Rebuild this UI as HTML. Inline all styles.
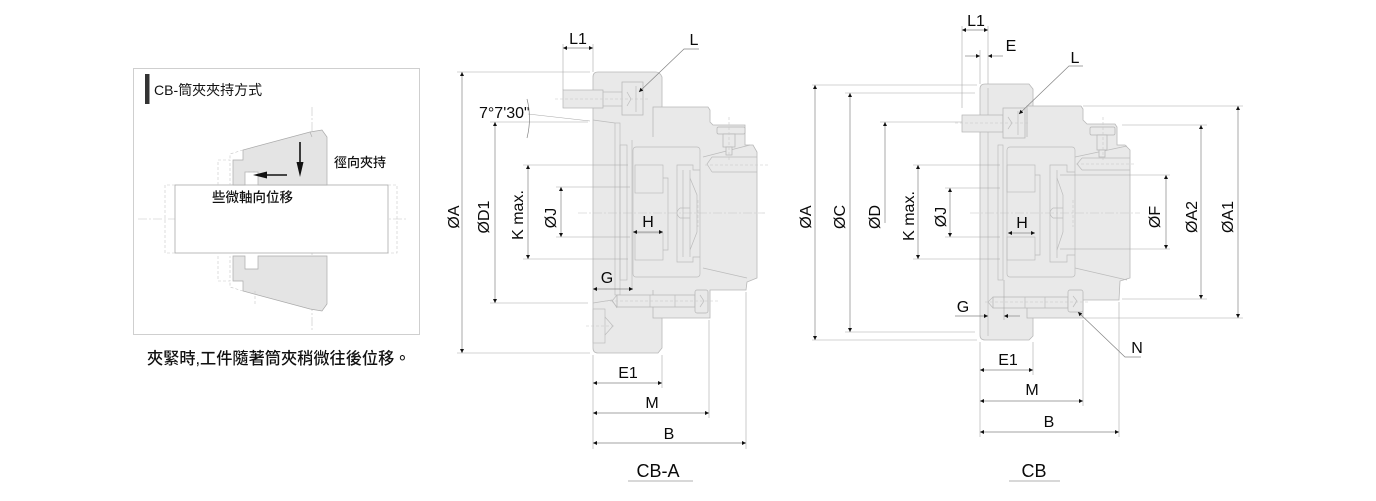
<!DOCTYPE html>
<html><head><meta charset="utf-8"><style>
html,body{margin:0;padding:0;background:#fff;}
svg{display:block;}
.t{font-family:"Liberation Sans",Arial,sans-serif;font-size:16px;fill:#0a0a0a;}
.cj{font-family:"Liberation Sans","Noto Sans CJK TC",sans-serif;fill:#111;}
.d{stroke:#858585;stroke-width:0.7;fill:none;}
.e{stroke:#a8a8a8;stroke-width:0.6;fill:none;}
.b{fill:#e9e9e9;stroke:#b8b8b8;stroke-width:0.8;}
.bf{fill:#e9e9e9;stroke:none;}
.bo{fill:none;stroke:#b8b8b8;stroke-width:0.8;}
.i{fill:none;stroke:#bcbcbc;stroke-width:0.7;}
.ib{fill:#e9e9e9;stroke:#b4b4b4;stroke-width:0.7;}
.c{stroke:#c4c4c4;stroke-width:0.6;stroke-dasharray:9 2 2 2;fill:none;}
.cd{stroke:#c8c8c8;stroke-width:0.6;stroke-dasharray:3 2;fill:none;}
</style></head><body>
<svg width="1376" height="501" viewBox="0 0 1376 501" xmlns="http://www.w3.org/2000/svg">
<defs>
<marker id="a" viewBox="0 0 10 10" refX="10" refY="5" markerWidth="8" markerHeight="4" orient="auto-start-reverse" markerUnits="userSpaceOnUse"><path d="M0,0 L10,5 L0,10z" fill="#111"/></marker>
</defs>

<!-- ================= LEFT PANEL ================= -->
<rect x="133.5" y="68.5" width="286" height="266" fill="#fff" stroke="#cfcfcf" stroke-width="1"/>
<rect x="145" y="74" width="4.5" height="30" fill="#333"/>
<text class="cj" x="154" y="95" font-size="14" fill="#333">CB-筒夾夾持方式</text>

<!-- centerlines -->
<line class="c" x1="312" y1="107" x2="312" y2="332"/>
<line class="c" x1="138" y1="219" x2="408" y2="219"/>

<!-- shaft -->
<rect x="175" y="185" width="213" height="68" fill="#fff" stroke="#aaa" stroke-width="0.8"/>
<path class="cd" d="M175,185 H165 V253 H175 M388,185 H397 V253 H388"/>

<!-- upper collet -->
<path d="M233,160 L243,160 L243,150 L310,132 L322,130 L327,137 L327,185 L258,185 L258,172 L245,172 L245,185 L233,185 Z" fill="#e4e4e4" stroke="#aaa" stroke-width="0.7"/>
<path class="cd" d="M218,185 V160 H230 V185 M243,150 L230,154 V160 M245,172 H258" stroke="#b0b0b0"/>
<line x1="310" y1="132" x2="312" y2="137" stroke="#aaa" stroke-width="0.6"/>
<!-- lower collet -->
<path d="M233,281 L243,281 L243,291 L310,309 L322,311 L327,304 L327,256 L258,256 L258,269 L245,269 L245,256 L233,256 Z" fill="#e4e4e4" stroke="#aaa" stroke-width="0.7"/>
<path class="cd" d="M218,256 V281 H230 V256 M243,291 L230,287 V281 M255,291 V306" stroke="#b0b0b0"/>

<!-- arrows -->
<line x1="300" y1="142" x2="300" y2="163" stroke="#111" stroke-width="1.6"/>
<path d="M296.5,162 L303.5,162 L300,177 Z" fill="#111"/>
<line x1="287" y1="175" x2="265" y2="175" stroke="#111" stroke-width="1.6"/>
<path d="M267,171.5 L267,178.5 L253,175 Z" fill="#111"/>

<text class="cj" x="334" y="167" font-size="13" font-weight="500">徑向夾持</text>
<text class="cj" x="212" y="202" font-size="13.5" font-weight="500">些微軸向位移</text>
<text class="cj" x="147" y="364" font-size="16.2" font-weight="500">夾緊時,工件隨著筒夾稍微往後位移。</text>

<!-- ================= CB-A ================= -->
<path class="b" d="M593,77 Q593,72 598,72 L656,72 Q660,72 662,77 L662,348 L658,353 L598,353 Q593,353 593,348 Z"/>
<path class="bf" d="M653,107 H708 L710,110 V122 L713,125 H745 V145 H753 L757,152 V278 L747,282 L746,290 H710 V318 H653 Z"/>
<path class="bo" d="M653,137 V107 H708 L710,110 V122 L713,125 H745 V145 H753 L757,152 V278 L747,282 L746,290 H710 V318 H653 V290"/>
<path class="i" d="M593,120 L615,123 M593,303 L612,300 L617,308"/>
<rect class="i" x="615" y="123" width="5" height="172"/>
<rect class="i" x="620" y="145" width="7" height="135"/>
<line class="i" x1="632" y1="140" x2="632" y2="290"/>
<rect class="i" x="633" y="147" width="67" height="130" rx="3"/>
<rect class="i" x="635" y="165" width="28" height="28"/>
<rect class="i" x="635" y="233" width="28" height="27"/>
<path class="i" d="M663,178 H668 V250 H663"/>
<path class="i" d="M700,170 H693 V165 H677 V262 H693 V257 H700 M683,170 V257"/>
<path class="i" d="M690,170 V257 M690,178 L697,195 V232 L690,250"/>
<path class="i" d="M703,157 L750,145 M703,268 L747,278"/>
<path class="i" d="M712,157 H757 M712,172 H757 M712,157 L707,164 L712,172"/>
<line class="cd" x1="705" y1="165" x2="768" y2="165"/>
<rect class="ib" x="717" y="127" width="28" height="7" rx="1.5"/>
<rect class="ib" x="723" y="134" width="12" height="13"/>
<rect class="ib" x="726" y="147" width="6" height="8"/>
<line class="cd" x1="729" y1="117" x2="729" y2="161"/>
<path class="i" d="M680,208 H690 M680,218 H690 M680,208 Q674,213 680,218"/>
<line class="cd" x1="698" y1="200" x2="698" y2="227"/>
<rect class="ib" x="563" y="90" width="40" height="18"/>
<path class="i" d="M603,92 H622 M603,106 H622"/>
<rect class="ib" x="622" y="82" width="21" height="33"/>
<path class="i" d="M627,92 L631,99 L627,106 M636,86 V112"/>
<line class="cd" x1="555" y1="99" x2="648" y2="99"/>
<rect class="ib" x="617" y="295" width="78" height="12"/>
<path class="i" d="M650,295 V307 M675,295 V307 M617,295 L612,301 L617,307"/>
<rect class="ib" x="695" y="290" width="13" height="23" rx="2"/>
<path class="i" d="M700,295 L704,301 L700,307"/>
<line class="cd" x1="605" y1="301" x2="720" y2="301"/>
<rect class="i" x="593" y="309" width="12" height="34"/>
<path class="i" d="M605,317 L613,326 L605,335"/>
<line class="cd" x1="586" y1="326" x2="614" y2="326"/>
<line class="c" x1="578" y1="213" x2="765" y2="213"/>

<!-- CB-A dimensions -->
<line class="e" x1="563" y1="44" x2="563" y2="90"/>
<line class="e" x1="593" y1="44" x2="593" y2="72"/>
<line class="d" x1="563" y1="48" x2="593" y2="48" marker-start="url(#a)" marker-end="url(#a)"/>
<text class="t" x="578" y="44" text-anchor="middle">L1</text>
<text class="t" x="694" y="45" text-anchor="middle">L</text>
<polyline class="d" points="699,49 684,49 639,92" marker-end="url(#a)"/>

<line class="e" x1="457" y1="72" x2="590" y2="72"/>
<line class="e" x1="457" y1="353" x2="590" y2="353"/>
<line class="d" x1="462" y1="72" x2="462" y2="353" marker-start="url(#a)" marker-end="url(#a)"/>
<text class="t" transform="translate(459,217) rotate(-90)" text-anchor="middle">ØA</text>

<line class="e" x1="490" y1="122" x2="588" y2="122"/>
<line class="e" x1="490" y1="303" x2="588" y2="303"/>
<line class="d" x1="495" y1="122" x2="495" y2="303" marker-start="url(#a)" marker-end="url(#a)"/>
<text class="t" transform="translate(489,217) rotate(-90)" text-anchor="middle">ØD1</text>

<text class="t" x="479" y="118">7°7'30"</text>
<line class="e" x1="528" y1="114" x2="590" y2="121"/>
<path class="d" d="M527,99 Q532,118 527,138"/>

<line class="e" x1="523" y1="165" x2="628" y2="165"/>
<line class="e" x1="523" y1="259" x2="628" y2="259"/>
<line class="d" x1="528" y1="165" x2="528" y2="259" marker-start="url(#a)" marker-end="url(#a)"/>
<text class="t" transform="translate(523,215) rotate(-90)" text-anchor="middle">K max.</text>

<line class="e" x1="556" y1="187" x2="630" y2="187"/>
<line class="e" x1="556" y1="237" x2="630" y2="237"/>
<line class="d" x1="561" y1="187" x2="561" y2="237" marker-start="url(#a)" marker-end="url(#a)"/>
<text class="t" transform="translate(556,218) rotate(-90)" text-anchor="middle">ØJ</text>

<line class="d" x1="633" y1="232" x2="663" y2="232" marker-start="url(#a)" marker-end="url(#a)"/>
<text class="t" x="648" y="227" text-anchor="middle">H</text>
<line class="d" x1="593" y1="289" x2="633" y2="289" marker-start="url(#a)" marker-end="url(#a)"/>
<text class="t" x="607" y="283" text-anchor="middle">G</text>

<line class="e" x1="593" y1="355" x2="593" y2="449"/>
<line class="e" x1="662" y1="355" x2="662" y2="388"/>
<line class="e" x1="709" y1="320" x2="709" y2="418"/>
<line class="e" x1="746" y1="292" x2="746" y2="449"/>
<line class="d" x1="593" y1="383" x2="662" y2="383" marker-start="url(#a)" marker-end="url(#a)"/>
<text class="t" x="628" y="378" text-anchor="middle">E1</text>
<line class="d" x1="593" y1="413" x2="709" y2="413" marker-start="url(#a)" marker-end="url(#a)"/>
<text class="t" x="652" y="408" text-anchor="middle">M</text>
<line class="d" x1="593" y1="443" x2="746" y2="443" marker-start="url(#a)" marker-end="url(#a)"/>
<text class="t" x="669" y="439" text-anchor="middle">B</text>
<text class="t" x="658" y="477" text-anchor="middle" style="font-size:18px">CB-A</text>
<line x1="628" y1="481" x2="693" y2="481" stroke="#999" stroke-width="0.7"/>

<!-- ================= CB ================= -->
<path class="b" d="M980,89 Q980,84 985,84 L1029,84 L1033,89 L1033,336 L1029,340 L985,340 Q980,340 980,335 Z"/>
<path class="bf" d="M1027,106 H1081 L1083,109 V120 L1087,124 H1115 L1117,127 V145 H1125 L1130,150 V278 L1120,281 L1119,300 H1083 V318 H1027 Z"/>
<path class="bo" d="M1027,137 V106 H1081 L1083,109 V120 L1087,124 H1115 L1117,127 V145 H1125 L1130,150 V278 L1120,281 L1119,300 H1083 V318 H1027 V308"/>
<line class="i" x1="988" y1="88" x2="988" y2="336"/>
<rect class="i" x="998" y="145" width="5" height="135"/>
<rect class="i" x="1007" y="147" width="68" height="130" rx="3"/>
<rect class="i" x="1007" y="165" width="28" height="27"/>
<rect class="i" x="1007" y="237" width="28" height="23"/>
<path class="i" d="M1035,175 H1040 V255 H1035"/>
<path class="i" d="M1075,172 H1067 V165 H1050 V262 H1067 V255 H1075 M1057,170 V258"/>
<path class="i" d="M1057,178 L1063,195 V232 L1057,250"/>
<path class="i" d="M1075,157 L1127,146 M1075,268 L1127,280"/>
<path class="i" d="M1082,158 H1130 M1082,170 H1130 M1082,158 L1077,164 L1082,170"/>
<line class="cd" x1="1076" y1="164" x2="1135" y2="164"/>
<rect class="ib" x="1090" y="127" width="25" height="8" rx="1.5"/>
<rect class="ib" x="1097" y="135" width="10" height="15"/>
<rect class="ib" x="1099" y="150" width="6" height="7"/>
<line class="cd" x1="1103" y1="117" x2="1103" y2="161"/>
<path class="i" d="M1053,208 H1063 M1053,218 H1063 M1053,208 Q1047,213 1053,218"/>
<line class="cd" x1="1073" y1="200" x2="1073" y2="227"/>
<rect class="ib" x="962" y="115" width="41" height="17"/>
<rect class="ib" x="1003" y="108" width="22" height="30"/>
<path class="i" d="M1008,117 L1012,123 L1008,129 M1018,111 V135"/>
<line class="cd" x1="955" y1="123" x2="1030" y2="123"/>
<rect class="ib" x="993" y="297" width="75" height="11"/>
<path class="i" d="M993,297 L988,302 L993,308 M1025,297 V308 M1045,297 V308"/>
<rect class="ib" x="1068" y="290" width="15" height="22" rx="2"/>
<path class="i" d="M1073,296 L1077,301 L1073,307"/>
<line class="cd" x1="985" y1="302" x2="1088" y2="302"/>
<line class="c" x1="970" y1="213" x2="1140" y2="213"/>

<!-- CB dimensions -->
<line class="e" x1="962" y1="26" x2="962" y2="108"/>
<line class="e" x1="988" y1="26" x2="988" y2="84"/>
<line class="e" x1="980" y1="50" x2="980" y2="84"/>
<line class="d" x1="962" y1="30" x2="988" y2="30" marker-start="url(#a)" marker-end="url(#a)"/>
<text class="t" x="976" y="26" text-anchor="middle">L1</text>
<line class="d" x1="965" y1="56" x2="980" y2="56" marker-end="url(#a)"/>
<line class="d" x1="1003" y1="56" x2="988" y2="56" marker-end="url(#a)"/>
<text class="t" x="1011" y="51" text-anchor="middle">E</text>
<text class="t" x="1075" y="63" text-anchor="middle">L</text>
<polyline class="d" points="1083,66 1069,66 1019,114" marker-end="url(#a)"/>

<line class="e" x1="812" y1="85" x2="977" y2="85"/>
<line class="e" x1="812" y1="340" x2="977" y2="340"/>
<line class="d" x1="815" y1="85" x2="815" y2="340" marker-start="url(#a)" marker-end="url(#a)"/>
<text class="t" transform="translate(811,217) rotate(-90)" text-anchor="middle">ØA</text>

<line class="e" x1="845" y1="93" x2="975" y2="93"/>
<line class="e" x1="845" y1="332" x2="975" y2="332"/>
<line class="d" x1="850" y1="93" x2="850" y2="332" marker-start="url(#a)" marker-end="url(#a)"/>
<text class="t" transform="translate(845,217) rotate(-90)" text-anchor="middle">ØC</text>

<line class="e" x1="880" y1="122" x2="962" y2="122"/>
<line class="d" x1="885" y1="223" x2="885" y2="122" marker-end="url(#a)"/>
<text class="t" transform="translate(880,217) rotate(-90)" text-anchor="middle">ØD</text>

<line class="e" x1="913" y1="165" x2="1000" y2="165"/>
<line class="e" x1="913" y1="259" x2="1000" y2="259"/>
<line class="d" x1="918" y1="165" x2="918" y2="259" marker-start="url(#a)" marker-end="url(#a)"/>
<text class="t" transform="translate(914,216) rotate(-90)" text-anchor="middle">K max.</text>

<line class="e" x1="945" y1="188" x2="1000" y2="188"/>
<line class="e" x1="945" y1="237" x2="1000" y2="237"/>
<line class="d" x1="950" y1="188" x2="950" y2="237" marker-start="url(#a)" marker-end="url(#a)"/>
<text class="t" transform="translate(946,217) rotate(-90)" text-anchor="middle">ØJ</text>

<line class="d" x1="1008" y1="233" x2="1035" y2="233" marker-start="url(#a)" marker-end="url(#a)"/>
<text class="t" x="1022" y="228" text-anchor="middle">H</text>

<line class="e" x1="1060" y1="175" x2="1170" y2="175"/>
<line class="e" x1="1060" y1="249" x2="1170" y2="249"/>
<line class="d" x1="1166" y1="175" x2="1166" y2="249" marker-start="url(#a)" marker-end="url(#a)"/>
<text class="t" transform="translate(1160,217) rotate(-90)" text-anchor="middle">ØF</text>

<line class="e" x1="1122" y1="125" x2="1207" y2="125"/>
<line class="e" x1="1122" y1="299" x2="1207" y2="299"/>
<line class="d" x1="1201" y1="125" x2="1201" y2="299" marker-start="url(#a)" marker-end="url(#a)"/>
<text class="t" transform="translate(1197,217) rotate(-90)" text-anchor="middle">ØA2</text>

<line class="e" x1="1083" y1="106" x2="1243" y2="106"/>
<line class="e" x1="1083" y1="318" x2="1243" y2="318"/>
<line class="d" x1="1238" y1="106" x2="1238" y2="318" marker-start="url(#a)" marker-end="url(#a)"/>
<text class="t" transform="translate(1233,217) rotate(-90)" text-anchor="middle">ØA1</text>

<line class="d" x1="955" y1="316" x2="988" y2="316" marker-end="url(#a)"/>
<line class="d" x1="1020" y1="316" x2="1004" y2="316" marker-end="url(#a)"/>
<line class="e" x1="1004" y1="280" x2="1004" y2="320"/>
<text class="t" x="963" y="312" text-anchor="middle">G</text>

<line class="e" x1="980" y1="342" x2="980" y2="437"/>
<line class="e" x1="1033" y1="342" x2="1033" y2="375"/>
<line class="e" x1="1083" y1="320" x2="1083" y2="406"/>
<line class="e" x1="1119" y1="302" x2="1119" y2="437"/>
<line class="d" x1="980" y1="370" x2="1033" y2="370" marker-start="url(#a)" marker-end="url(#a)"/>
<text class="t" x="1008" y="365" text-anchor="middle">E1</text>
<line class="d" x1="980" y1="401" x2="1083" y2="401" marker-start="url(#a)" marker-end="url(#a)"/>
<text class="t" x="1032" y="395" text-anchor="middle">M</text>
<line class="d" x1="980" y1="432" x2="1119" y2="432" marker-start="url(#a)" marker-end="url(#a)"/>
<text class="t" x="1049" y="427" text-anchor="middle">B</text>

<text class="t" x="1137" y="353" text-anchor="middle">N</text>
<polyline class="d" points="1141,357 1125,357 1078,312" marker-end="url(#a)"/>

<text class="t" x="1034" y="477" text-anchor="middle" style="font-size:18px">CB</text>
<line x1="1009" y1="481" x2="1060" y2="481" stroke="#999" stroke-width="0.7"/>
</svg>
</body></html>
